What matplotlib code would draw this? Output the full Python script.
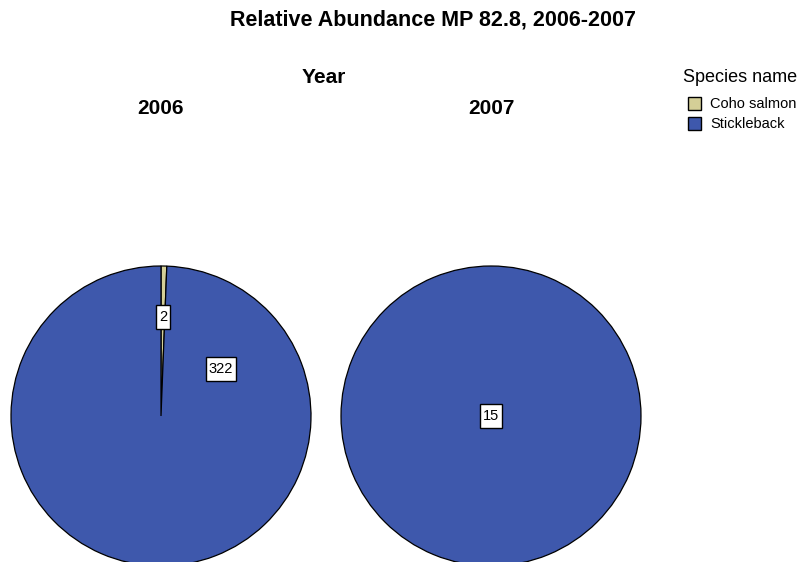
import matplotlib.pyplot as plt
from matplotlib.patches import Rectangle

plt.rcParams['font.family'] = ['Liberation Sans', 'DejaVu Sans']

years = ['2006', '2007']
species = ['Coho salmon', 'Stickleback']
counts = {'2006': [2, 322], '2007': [0, 15]}
colors = ['#D4CF97', '#3E58AC']

W, H = 803, 562
fig = plt.figure(figsize=(W / 100, H / 100), dpi=100)
ax = fig.add_axes([0, 0, 1, 1])

radius = 150
centers = {'2006': (161, H - 416), '2007': (491, H - 416)}


def value_label(x, y, value):
    # white boxed count label, fixed box height like the SPSS output
    t = ax.text(x, y, str(value), ha='center', va='center', fontsize=10.5,
                zorder=5)
    fig.canvas.draw()
    bb = t.get_window_extent()
    w = bb.width + 6
    ax.add_patch(Rectangle((x - w / 2, y - 12), w, 24, fc='white',
                           ec='black', lw=1.0, zorder=4))


for year in years:
    cx, cy = centers[year]
    ax.pie(counts[year], colors=colors, startangle=90, counterclock=False,
           center=(cx, cy), radius=radius, frame=True,
           wedgeprops=dict(edgecolor='black', linewidth=0.9))
    ax.text(cx, H - 109, year, ha='center', va='center',
            fontsize=15, fontweight='bold')

ax.set_xlim(0, W)
ax.set_ylim(0, H)
ax.set_aspect('equal')
ax.axis('off')

cx, cy = centers['2006']
value_label(cx + 2, cy + 99, counts['2006'][0])
value_label(cx + 60, cy + 47, counts['2006'][1])
cx, cy = centers['2007']
value_label(cx, cy, counts['2007'][1])

ax.text(433, H - 20, 'Relative Abundance MP 82.8, 2006-2007', ha='center',
        va='center', fontsize=15.5, fontweight='bold')
ax.text(324, H - 78, 'Year', ha='center', va='center',
        fontsize=15, fontweight='bold')

# legend
ax.text(683, H - 78, 'Species name', ha='left', va='center', fontsize=13)
for i, (name, col) in enumerate(zip(species, colors)):
    y = H - 104 - 20 * i
    ax.add_patch(Rectangle((688, y - 6.5), 13, 13, fc=col, ec='black', lw=1.0))
    ax.text(710, y, name, ha='left', va='center', fontsize=10.5)

fig.savefig('out.png', dpi=100)
